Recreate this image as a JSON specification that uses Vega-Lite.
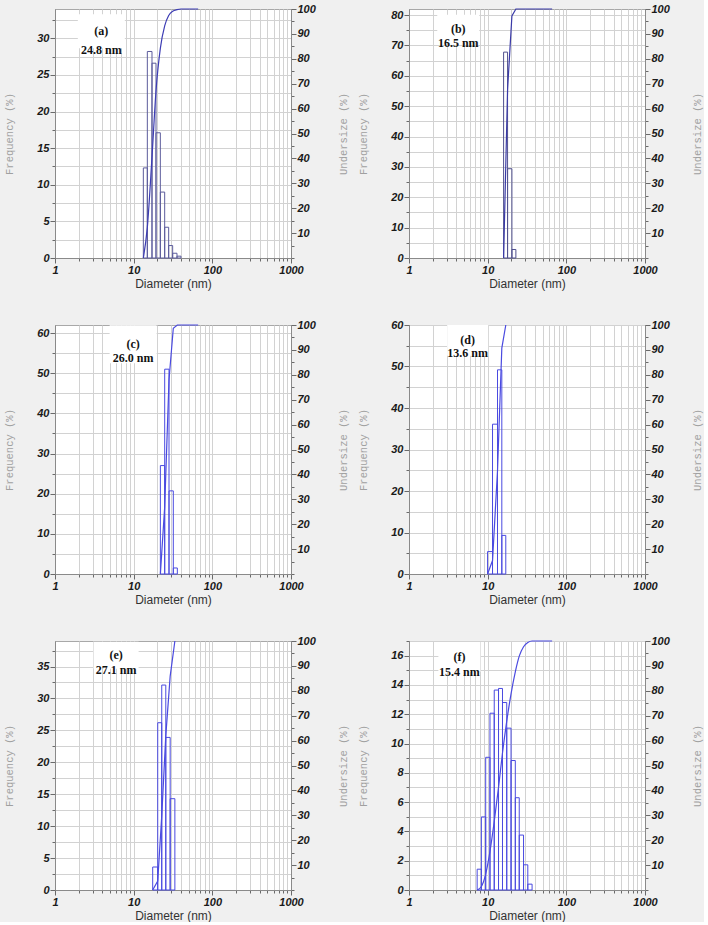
{
  "$schema": "https://vega.github.io/schema/vega-lite/v6.json",
  "background": "#f0f0f0",
  "padding": {"left": 4, "top": 2, "right": 0, "bottom": 0},
  "datasets": {
    "bars": [
      {"p": "a", "lo": 13.27, "hi": 14.92, "f": 12.3},
      {"p": "a", "lo": 14.92, "hi": 17.10, "f": 28.2},
      {"p": "a", "lo": 17.10, "hi": 19.23, "f": 26.6},
      {"p": "a", "lo": 19.23, "hi": 21.83, "f": 17.1},
      {"p": "a", "lo": 21.83, "hi": 24.79, "f": 9.0},
      {"p": "a", "lo": 24.79, "hi": 27.86, "f": 4.2},
      {"p": "a", "lo": 27.86, "hi": 31.32, "f": 1.7},
      {"p": "a", "lo": 31.32, "hi": 35.55, "f": 0.65},
      {"p": "a", "lo": 35.55, "hi": 39.97, "f": 0.25},
      {"p": "b", "lo": 15.94, "hi": 17.91, "f": 67.8},
      {"p": "b", "lo": 17.91, "hi": 20.33, "f": 29.4},
      {"p": "b", "lo": 20.33, "hi": 22.84, "f": 2.8},
      {"p": "c", "lo": 21.85, "hi": 24.8, "f": 27.0},
      {"p": "c", "lo": 24.8, "hi": 28.14, "f": 51.0},
      {"p": "c", "lo": 28.14, "hi": 31.9, "f": 20.7},
      {"p": "c", "lo": 31.9, "hi": 35.9, "f": 1.5},
      {"p": "d", "lo": 9.97, "hi": 11.53, "f": 5.4},
      {"p": "d", "lo": 11.53, "hi": 13.34, "f": 36.1},
      {"p": "d", "lo": 13.34, "hi": 15.13, "f": 49.2},
      {"p": "d", "lo": 15.13, "hi": 17.0, "f": 9.3},
      {"p": "e", "lo": 17.45, "hi": 20.22, "f": 3.6},
      {"p": "e", "lo": 20.22, "hi": 22.75, "f": 26.2},
      {"p": "e", "lo": 22.75, "hi": 25.6, "f": 32.1},
      {"p": "e", "lo": 25.6, "hi": 29.1, "f": 23.9},
      {"p": "e", "lo": 29.1, "hi": 33.4, "f": 14.3},
      {"p": "f", "lo": 7.35, "hi": 8.32, "f": 1.42},
      {"p": "f", "lo": 8.32, "hi": 9.44, "f": 4.99},
      {"p": "f", "lo": 9.44, "hi": 10.7, "f": 9.06},
      {"p": "f", "lo": 10.7, "hi": 12.12, "f": 12.07},
      {"p": "f", "lo": 12.12, "hi": 13.74, "f": 13.65},
      {"p": "f", "lo": 13.74, "hi": 15.43, "f": 13.76},
      {"p": "f", "lo": 15.43, "hi": 17.48, "f": 12.8},
      {"p": "f", "lo": 17.48, "hi": 19.82, "f": 11.05},
      {"p": "f", "lo": 19.82, "hi": 22.46, "f": 8.84},
      {"p": "f", "lo": 22.46, "hi": 25.2, "f": 6.3},
      {"p": "f", "lo": 25.2, "hi": 28.58, "f": 3.75},
      {"p": "f", "lo": 28.58, "hi": 32.38, "f": 1.72},
      {"p": "f", "lo": 32.38, "hi": 36.7, "f": 0.4}
    ],
    "cum": [
      {"p": "a", "d": 13.27, "u": 0},
      {"p": "a", "d": 14.92, "u": 12.3},
      {"p": "a", "d": 17.10, "u": 40.5},
      {"p": "a", "d": 19.23, "u": 67.1},
      {"p": "a", "d": 21.83, "u": 84.2},
      {"p": "a", "d": 24.79, "u": 93.2},
      {"p": "a", "d": 27.86, "u": 97.4},
      {"p": "a", "d": 31.32, "u": 99.1},
      {"p": "a", "d": 35.55, "u": 99.75},
      {"p": "a", "d": 39.97, "u": 100},
      {"p": "a", "d": 66, "u": 100},
      {"p": "b", "d": 15.94, "u": 0},
      {"p": "b", "d": 17.91, "u": 67.8},
      {"p": "b", "d": 20.33, "u": 97.2},
      {"p": "b", "d": 22.84, "u": 100},
      {"p": "b", "d": 66, "u": 100},
      {"p": "c", "d": 21.85, "u": 0},
      {"p": "c", "d": 24.8, "u": 27},
      {"p": "c", "d": 28.14, "u": 78},
      {"p": "c", "d": 31.9, "u": 98.7},
      {"p": "c", "d": 35.9, "u": 100},
      {"p": "c", "d": 66, "u": 100},
      {"p": "d", "d": 9.97, "u": 0},
      {"p": "d", "d": 11.53, "u": 5.4},
      {"p": "d", "d": 13.34, "u": 41.5},
      {"p": "d", "d": 15.13, "u": 90.7},
      {"p": "d", "d": 17.0, "u": 100},
      {"p": "e", "d": 17.45, "u": 0},
      {"p": "e", "d": 20.22, "u": 3.6},
      {"p": "e", "d": 22.75, "u": 29.8},
      {"p": "e", "d": 25.6, "u": 61.9},
      {"p": "e", "d": 29.1, "u": 85.8},
      {"p": "e", "d": 33.4, "u": 100},
      {"p": "f", "d": 7.35, "u": 0},
      {"p": "f", "d": 8.32, "u": 1.42},
      {"p": "f", "d": 9.44, "u": 6.41},
      {"p": "f", "d": 10.7, "u": 15.5},
      {"p": "f", "d": 12.12, "u": 27.5},
      {"p": "f", "d": 13.74, "u": 41.2},
      {"p": "f", "d": 15.43, "u": 55.0},
      {"p": "f", "d": 17.48, "u": 67.8},
      {"p": "f", "d": 19.82, "u": 78.8},
      {"p": "f", "d": 22.46, "u": 87.6},
      {"p": "f", "d": 25.2, "u": 93.9},
      {"p": "f", "d": 28.58, "u": 97.7},
      {"p": "f", "d": 32.38, "u": 99.4},
      {"p": "f", "d": 36.7, "u": 100},
      {"p": "f", "d": 66, "u": 100}
    ],
    "lab": [
      {"p": "a", "d": 3.88, "f": 30.96, "t": "(a)\n24.8 nm"},
      {"p": "b", "d": 4.23, "f": 75.5, "t": "(b)\n16.5 nm"},
      {"p": "c", "d": 9.84, "f": 57.2, "t": "(c)\n26.0 nm"},
      {"p": "d", "d": 5.57, "f": 56.3, "t": "(d)\n13.6 nm"},
      {"p": "e", "d": 5.98, "f": 36.75, "t": "(e)\n27.1 nm"},
      {"p": "f", "d": 4.37, "f": 15.9, "t": "(f)\n15.4 nm"}
    ]
  },
  "columns": 2,
  "spacing": {"row": 67, "column": 118},
  "bounds": "flush",
  "concat": [
    {
      "width": 236, "height": 249,
      "layer": [
        {"data": {"name": "bars"}, "transform": [{"filter": "datum.p == 'a'"}],
         "mark": {"type": "rect", "filled": false, "stroke": "#5c5c9c", "strokeWidth": 1},
         "encoding": {
           "x": {"field": "lo", "type": "quantitative", "scale": {"type": "log", "domain": [1, 1000]}, "axis": {"orient": "bottom", "values": [1,2,3,4,5,6,7,8,9,10,20,30,40,50,60,70,80,90,100,200,300,400,500,600,700,800,900,1000], "labels": false, "tickSize": 3, "grid": true, "title": null}},
           "x2": {"field": "hi"},
           "y": {"field": "f", "type": "quantitative", "scale": {"domain": [0, 34], "nice": false}, "axis": {"orient": "left", "values": [0,5,10,15,20,25,30], "tickSize": 5, "grid": false, "title": "Frequency (%)"}},
           "y2": {"datum": 0}
         }},
        {"data": {"name": "bars"}, "transform": [{"filter": "datum.p == 'a'"}],
         "mark": {"type": "point", "opacity": 0},
         "encoding": {
           "x": {"field": "lo", "type": "quantitative", "scale": {"type": "log", "domain": [1, 1000]}, "axis": {"orient": "bottom", "values": [1, 10, 100, 1000], "format": "d", "tickSize": 5, "grid": false, "title": "Diameter (nm)"}},
           "y": {"field": "f", "type": "quantitative", "scale": {"domain": [0, 34], "nice": false}, "axis": {"orient": "left", "values": [0,2.5,5,7.5,10,12.5,15,17.5,20,22.5,25,27.5,30,32.5], "labels": false, "tickSize": 3, "grid": true, "title": null}}
         }},
        {"data": {"name": "cum"}, "transform": [{"filter": "datum.p == 'a'"}],
         "mark": {"type": "line", "stroke": "#3c3cb4", "strokeWidth": 1.2, "interpolate": "monotone"},
         "encoding": {
           "x": {"field": "d", "type": "quantitative", "scale": {"type": "log", "domain": [1, 1000]}, "axis": null},
           "y": {"field": "u", "type": "quantitative", "scale": {"domain": [0, 100], "nice": false}, "axis": {"orient": "right", "values": [0,5,10,15,20,25,30,35,40,45,50,55,60,65,70,75,80,85,90,95,100], "labels": false, "tickSize": 3, "grid": false, "title": null}}
         }},
        {"data": {"name": "cum"}, "transform": [{"filter": "datum.p == 'a'"}],
         "mark": {"type": "point", "opacity": 0},
         "encoding": {
           "x": {"field": "d", "type": "quantitative", "scale": {"type": "log", "domain": [1, 1000]}, "axis": null},
           "y": {"field": "u", "type": "quantitative", "scale": {"domain": [0, 100], "nice": false}, "axis": {"orient": "right", "values": [10,20,30,40,50,60,70,80,90,100], "tickSize": 5, "grid": false, "title": "Undersize (%)", "titleAngle": 270, "titlePadding": 33}}
         }},
        {"data": {"name": "lab"}, "transform": [{"filter": "datum.p == 'a'"}],
         "mark": {"type": "point", "shape": "M-1,-0.723H1V0.723H-1Z", "size": 2209, "filled": true, "fill": "white", "opacity": 1, "strokeWidth": 0},
         "encoding": {
           "x": {"field": "d", "type": "quantitative", "scale": {"type": "log", "domain": [1, 1000]}, "axis": null},
           "y": {"field": "f", "type": "quantitative", "scale": {"domain": [0, 34], "nice": false}, "axis": null}
         }},
        {"data": {"name": "lab"}, "transform": [{"filter": "datum.p == 'a'"}],
         "mark": {"type": "text", "font": "Liberation Serif", "fontWeight": "bold", "fontSize": 12, "lineBreak": "\n", "lineHeight": 18.6, "align": "center", "baseline": "middle", "color": "#111"},
         "encoding": {
           "x": {"field": "d", "type": "quantitative", "scale": {"type": "log", "domain": [1, 1000]}, "axis": null},
           "y": {"field": "f", "type": "quantitative", "scale": {"domain": [0, 34], "nice": false}, "axis": null},
           "text": {"field": "t"}
         }}
      ],
      "resolve": {"scale": {"y": "independent"}, "axis": {"x": "independent", "y": "independent"}}
    },
    {
      "width": 236, "height": 249,
      "layer": [
        {"data": {"name": "bars"}, "transform": [{"filter": "datum.p == 'b'"}],
         "mark": {"type": "rect", "filled": false, "stroke": "#50508e", "strokeWidth": 1},
         "encoding": {
           "x": {"field": "lo", "type": "quantitative", "scale": {"type": "log", "domain": [1, 1000]}, "axis": {"orient": "bottom", "values": [1,2,3,4,5,6,7,8,9,10,20,30,40,50,60,70,80,90,100,200,300,400,500,600,700,800,900,1000], "labels": false, "tickSize": 3, "grid": true, "title": null}},
           "x2": {"field": "hi"},
           "y": {"field": "f", "type": "quantitative", "scale": {"domain": [0, 82], "nice": false}, "axis": {"orient": "left", "values": [0,10,20,30,40,50,60,70,80], "tickSize": 5, "grid": false, "title": "Frequency (%)"}},
           "y2": {"datum": 0}
         }},
        {"data": {"name": "bars"}, "transform": [{"filter": "datum.p == 'b'"}],
         "mark": {"type": "point", "opacity": 0},
         "encoding": {
           "x": {"field": "lo", "type": "quantitative", "scale": {"type": "log", "domain": [1, 1000]}, "axis": {"orient": "bottom", "values": [1, 10, 100, 1000], "format": "d", "tickSize": 5, "grid": false, "title": "Diameter (nm)"}},
           "y": {"field": "f", "type": "quantitative", "scale": {"domain": [0, 82], "nice": false}, "axis": {"orient": "left", "values": [0,5,10,15,20,25,30,35,40,45,50,55,60,65,70,75,80], "labels": false, "tickSize": 3, "grid": true, "title": null}}
         }},
        {"data": {"name": "cum"}, "transform": [{"filter": "datum.p == 'b'"}],
         "mark": {"type": "line", "stroke": "#3a3aa8", "strokeWidth": 1.2},
         "encoding": {
           "x": {"field": "d", "type": "quantitative", "scale": {"type": "log", "domain": [1, 1000]}, "axis": null},
           "y": {"field": "u", "type": "quantitative", "scale": {"domain": [0, 100], "nice": false}, "axis": {"orient": "right", "values": [0,5,10,15,20,25,30,35,40,45,50,55,60,65,70,75,80,85,90,95,100], "labels": false, "tickSize": 3, "grid": false, "title": null}}
         }},
        {"data": {"name": "cum"}, "transform": [{"filter": "datum.p == 'b'"}],
         "mark": {"type": "point", "opacity": 0},
         "encoding": {
           "x": {"field": "d", "type": "quantitative", "scale": {"type": "log", "domain": [1, 1000]}, "axis": null},
           "y": {"field": "u", "type": "quantitative", "scale": {"domain": [0, 100], "nice": false}, "axis": {"orient": "right", "values": [10,20,30,40,50,60,70,80,90,100], "tickSize": 5, "grid": false, "title": "Undersize (%)", "titleAngle": 270, "titlePadding": 33}}
         }},
        {"data": {"name": "lab"}, "transform": [{"filter": "datum.p == 'b'"}],
         "mark": {"type": "point", "shape": "M-1,-0.667H1V0.667H-1Z", "size": 1764, "filled": true, "fill": "white", "opacity": 1, "strokeWidth": 0},
         "encoding": {
           "x": {"field": "d", "type": "quantitative", "scale": {"type": "log", "domain": [1, 1000]}, "axis": null},
           "y": {"field": "f", "type": "quantitative", "scale": {"domain": [0, 82], "nice": false}, "axis": null}
         }},
        {"data": {"name": "lab"}, "transform": [{"filter": "datum.p == 'b'"}],
         "mark": {"type": "text", "font": "Liberation Serif", "fontWeight": "bold", "fontSize": 12, "lineBreak": "\n", "lineHeight": 14.3, "align": "center", "baseline": "middle", "color": "#111"},
         "encoding": {
           "x": {"field": "d", "type": "quantitative", "scale": {"type": "log", "domain": [1, 1000]}, "axis": null},
           "y": {"field": "f", "type": "quantitative", "scale": {"domain": [0, 82], "nice": false}, "axis": null},
           "text": {"field": "t"}
         }}
      ],
      "resolve": {"scale": {"y": "independent"}, "axis": {"x": "independent", "y": "independent"}}
    },
    {
      "width": 236, "height": 249,
      "layer": [
        {"data": {"name": "bars"}, "transform": [{"filter": "datum.p == 'c'"}],
         "mark": {"type": "rect", "filled": false, "stroke": "#4a4ae0", "strokeWidth": 1},
         "encoding": {
           "x": {"field": "lo", "type": "quantitative", "scale": {"type": "log", "domain": [1, 1000]}, "axis": {"orient": "bottom", "values": [1,2,3,4,5,6,7,8,9,10,20,30,40,50,60,70,80,90,100,200,300,400,500,600,700,800,900,1000], "labels": false, "tickSize": 3, "grid": true, "title": null}},
           "x2": {"field": "hi"},
           "y": {"field": "f", "type": "quantitative", "scale": {"domain": [0, 62], "nice": false}, "axis": {"orient": "left", "values": [0,10,20,30,40,50,60], "tickSize": 5, "grid": false, "title": "Frequency (%)"}},
           "y2": {"datum": 0}
         }},
        {"data": {"name": "bars"}, "transform": [{"filter": "datum.p == 'c'"}],
         "mark": {"type": "point", "opacity": 0},
         "encoding": {
           "x": {"field": "lo", "type": "quantitative", "scale": {"type": "log", "domain": [1, 1000]}, "axis": {"orient": "bottom", "values": [1, 10, 100, 1000], "format": "d", "tickSize": 5, "grid": false, "title": "Diameter (nm)"}},
           "y": {"field": "f", "type": "quantitative", "scale": {"domain": [0, 62], "nice": false}, "axis": {"orient": "left", "values": [0,5,10,15,20,25,30,35,40,45,50,55,60], "labels": false, "tickSize": 3, "grid": true, "title": null}}
         }},
        {"data": {"name": "cum"}, "transform": [{"filter": "datum.p == 'c'"}],
         "mark": {"type": "line", "stroke": "#4a4ae0", "strokeWidth": 1.2},
         "encoding": {
           "x": {"field": "d", "type": "quantitative", "scale": {"type": "log", "domain": [1, 1000]}, "axis": null},
           "y": {"field": "u", "type": "quantitative", "scale": {"domain": [0, 100], "nice": false}, "axis": {"orient": "right", "values": [0,5,10,15,20,25,30,35,40,45,50,55,60,65,70,75,80,85,90,95,100], "labels": false, "tickSize": 3, "grid": false, "title": null}}
         }},
        {"data": {"name": "cum"}, "transform": [{"filter": "datum.p == 'c'"}],
         "mark": {"type": "point", "opacity": 0},
         "encoding": {
           "x": {"field": "d", "type": "quantitative", "scale": {"type": "log", "domain": [1, 1000]}, "axis": null},
           "y": {"field": "u", "type": "quantitative", "scale": {"domain": [0, 100], "nice": false}, "axis": {"orient": "right", "values": [10,20,30,40,50,60,70,80,90,100], "tickSize": 5, "grid": false, "title": "Undersize (%)", "titleAngle": 270, "titlePadding": 33}}
         }},
        {"data": {"name": "lab"}, "transform": [{"filter": "datum.p == 'c'"}],
         "mark": {"type": "point", "shape": "M-1,-0.809H1V0.809H-1Z", "size": 2209, "filled": true, "fill": "white", "opacity": 1, "strokeWidth": 0},
         "encoding": {
           "x": {"field": "d", "type": "quantitative", "scale": {"type": "log", "domain": [1, 1000]}, "axis": null},
           "y": {"field": "f", "type": "quantitative", "scale": {"domain": [0, 62], "nice": false}, "axis": null}
         }},
        {"data": {"name": "lab"}, "transform": [{"filter": "datum.p == 'c'"}],
         "mark": {"type": "text", "font": "Liberation Serif", "fontWeight": "bold", "fontSize": 12, "lineBreak": "\n", "lineHeight": 14, "align": "center", "baseline": "middle", "color": "#111"},
         "encoding": {
           "x": {"field": "d", "type": "quantitative", "scale": {"type": "log", "domain": [1, 1000]}, "axis": null},
           "y": {"field": "f", "type": "quantitative", "scale": {"domain": [0, 62], "nice": false}, "axis": null},
           "text": {"field": "t"}
         }}
      ],
      "resolve": {"scale": {"y": "independent"}, "axis": {"x": "independent", "y": "independent"}}
    },
    {
      "width": 236, "height": 249,
      "layer": [
        {"data": {"name": "bars"}, "transform": [{"filter": "datum.p == 'd'"}],
         "mark": {"type": "rect", "filled": false, "stroke": "#4a4ae0", "strokeWidth": 1},
         "encoding": {
           "x": {"field": "lo", "type": "quantitative", "scale": {"type": "log", "domain": [1, 1000]}, "axis": {"orient": "bottom", "values": [1,2,3,4,5,6,7,8,9,10,20,30,40,50,60,70,80,90,100,200,300,400,500,600,700,800,900,1000], "labels": false, "tickSize": 3, "grid": true, "title": null}},
           "x2": {"field": "hi"},
           "y": {"field": "f", "type": "quantitative", "scale": {"domain": [0, 60], "nice": false}, "axis": {"orient": "left", "values": [0,10,20,30,40,50,60], "tickSize": 5, "grid": false, "title": "Frequency (%)"}},
           "y2": {"datum": 0}
         }},
        {"data": {"name": "bars"}, "transform": [{"filter": "datum.p == 'd'"}],
         "mark": {"type": "point", "opacity": 0},
         "encoding": {
           "x": {"field": "lo", "type": "quantitative", "scale": {"type": "log", "domain": [1, 1000]}, "axis": {"orient": "bottom", "values": [1, 10, 100, 1000], "format": "d", "tickSize": 5, "grid": false, "title": "Diameter (nm)"}},
           "y": {"field": "f", "type": "quantitative", "scale": {"domain": [0, 60], "nice": false}, "axis": {"orient": "left", "values": [0,5,10,15,20,25,30,35,40,45,50,55,60], "labels": false, "tickSize": 3, "grid": true, "title": null}}
         }},
        {"data": {"name": "cum"}, "transform": [{"filter": "datum.p == 'd'"}],
         "mark": {"type": "line", "stroke": "#4a4ae0", "strokeWidth": 1.2},
         "encoding": {
           "x": {"field": "d", "type": "quantitative", "scale": {"type": "log", "domain": [1, 1000]}, "axis": null},
           "y": {"field": "u", "type": "quantitative", "scale": {"domain": [0, 100], "nice": false}, "axis": {"orient": "right", "values": [0,5,10,15,20,25,30,35,40,45,50,55,60,65,70,75,80,85,90,95,100], "labels": false, "tickSize": 3, "grid": false, "title": null}}
         }},
        {"data": {"name": "cum"}, "transform": [{"filter": "datum.p == 'd'"}],
         "mark": {"type": "point", "opacity": 0},
         "encoding": {
           "x": {"field": "d", "type": "quantitative", "scale": {"type": "log", "domain": [1, 1000]}, "axis": null},
           "y": {"field": "u", "type": "quantitative", "scale": {"domain": [0, 100], "nice": false}, "axis": {"orient": "right", "values": [10,20,30,40,50,60,70,80,90,100], "tickSize": 5, "grid": false, "title": "Undersize (%)", "titleAngle": 270, "titlePadding": 33}}
         }},
        {"data": {"name": "lab"}, "transform": [{"filter": "datum.p == 'd'"}],
         "mark": {"type": "point", "shape": "M-1,-0.75H1V0.75H-1Z", "size": 1681, "filled": true, "fill": "white", "opacity": 1, "strokeWidth": 0},
         "encoding": {
           "x": {"field": "d", "type": "quantitative", "scale": {"type": "log", "domain": [1, 1000]}, "axis": null},
           "y": {"field": "f", "type": "quantitative", "scale": {"domain": [0, 60], "nice": false}, "axis": null}
         }},
        {"data": {"name": "lab"}, "transform": [{"filter": "datum.p == 'd'"}],
         "mark": {"type": "text", "font": "Liberation Serif", "fontWeight": "bold", "fontSize": 12, "lineBreak": "\n", "lineHeight": 13, "align": "center", "baseline": "middle", "color": "#111"},
         "encoding": {
           "x": {"field": "d", "type": "quantitative", "scale": {"type": "log", "domain": [1, 1000]}, "axis": null},
           "y": {"field": "f", "type": "quantitative", "scale": {"domain": [0, 60], "nice": false}, "axis": null},
           "text": {"field": "t"}
         }}
      ],
      "resolve": {"scale": {"y": "independent"}, "axis": {"x": "independent", "y": "independent"}}
    },
    {
      "width": 236, "height": 249,
      "layer": [
        {"data": {"name": "bars"}, "transform": [{"filter": "datum.p == 'e'"}],
         "mark": {"type": "rect", "filled": false, "stroke": "#4a4ae0", "strokeWidth": 1},
         "encoding": {
           "x": {"field": "lo", "type": "quantitative", "scale": {"type": "log", "domain": [1, 1000]}, "axis": {"orient": "bottom", "values": [1,2,3,4,5,6,7,8,9,10,20,30,40,50,60,70,80,90,100,200,300,400,500,600,700,800,900,1000], "labels": false, "tickSize": 3, "grid": true, "title": null}},
           "x2": {"field": "hi"},
           "y": {"field": "f", "type": "quantitative", "scale": {"domain": [0, 39], "nice": false}, "axis": {"orient": "left", "values": [0,5,10,15,20,25,30,35], "tickSize": 5, "grid": false, "title": "Frequency (%)"}},
           "y2": {"datum": 0}
         }},
        {"data": {"name": "bars"}, "transform": [{"filter": "datum.p == 'e'"}],
         "mark": {"type": "point", "opacity": 0},
         "encoding": {
           "x": {"field": "lo", "type": "quantitative", "scale": {"type": "log", "domain": [1, 1000]}, "axis": {"orient": "bottom", "values": [1, 10, 100, 1000], "format": "d", "tickSize": 5, "grid": false, "title": "Diameter (nm)"}},
           "y": {"field": "f", "type": "quantitative", "scale": {"domain": [0, 39], "nice": false}, "axis": {"orient": "left", "values": [0,2.5,5,7.5,10,12.5,15,17.5,20,22.5,25,27.5,30,32.5,35,37.5], "labels": false, "tickSize": 3, "grid": true, "title": null}}
         }},
        {"data": {"name": "cum"}, "transform": [{"filter": "datum.p == 'e'"}],
         "mark": {"type": "line", "stroke": "#4a4ae0", "strokeWidth": 1.2},
         "encoding": {
           "x": {"field": "d", "type": "quantitative", "scale": {"type": "log", "domain": [1, 1000]}, "axis": null},
           "y": {"field": "u", "type": "quantitative", "scale": {"domain": [0, 100], "nice": false}, "axis": {"orient": "right", "values": [0,5,10,15,20,25,30,35,40,45,50,55,60,65,70,75,80,85,90,95,100], "labels": false, "tickSize": 3, "grid": false, "title": null}}
         }},
        {"data": {"name": "cum"}, "transform": [{"filter": "datum.p == 'e'"}],
         "mark": {"type": "point", "opacity": 0},
         "encoding": {
           "x": {"field": "d", "type": "quantitative", "scale": {"type": "log", "domain": [1, 1000]}, "axis": null},
           "y": {"field": "u", "type": "quantitative", "scale": {"domain": [0, 100], "nice": false}, "axis": {"orient": "right", "values": [10,20,30,40,50,60,70,80,90,100], "tickSize": 5, "grid": false, "title": "Undersize (%)", "titleAngle": 270, "titlePadding": 33}}
         }},
        {"data": {"name": "lab"}, "transform": [{"filter": "datum.p == 'e'"}],
         "mark": {"type": "point", "shape": "M-1,-0.6H1V0.6H-1Z", "size": 2025, "filled": true, "fill": "white", "opacity": 1, "strokeWidth": 0},
         "encoding": {
           "x": {"field": "d", "type": "quantitative", "scale": {"type": "log", "domain": [1, 1000]}, "axis": null},
           "y": {"field": "f", "type": "quantitative", "scale": {"domain": [0, 39], "nice": false}, "axis": null}
         }},
        {"data": {"name": "lab"}, "transform": [{"filter": "datum.p == 'e'"}],
         "mark": {"type": "text", "font": "Liberation Serif", "fontWeight": "bold", "fontSize": 12, "lineBreak": "\n", "lineHeight": 14.3, "align": "center", "baseline": "middle", "color": "#111"},
         "encoding": {
           "x": {"field": "d", "type": "quantitative", "scale": {"type": "log", "domain": [1, 1000]}, "axis": null},
           "y": {"field": "f", "type": "quantitative", "scale": {"domain": [0, 39], "nice": false}, "axis": null},
           "text": {"field": "t"}
         }}
      ],
      "resolve": {"scale": {"y": "independent"}, "axis": {"x": "independent", "y": "independent"}}
    },
    {
      "width": 236, "height": 249,
      "layer": [
        {"data": {"name": "bars"}, "transform": [{"filter": "datum.p == 'f'"}],
         "mark": {"type": "rect", "filled": false, "stroke": "#4a4ae0", "strokeWidth": 1},
         "encoding": {
           "x": {"field": "lo", "type": "quantitative", "scale": {"type": "log", "domain": [1, 1000]}, "axis": {"orient": "bottom", "values": [1,2,3,4,5,6,7,8,9,10,20,30,40,50,60,70,80,90,100,200,300,400,500,600,700,800,900,1000], "labels": false, "tickSize": 3, "grid": true, "title": null}},
           "x2": {"field": "hi"},
           "y": {"field": "f", "type": "quantitative", "scale": {"domain": [0, 17], "nice": false}, "axis": {"orient": "left", "values": [0,2,4,6,8,10,12,14,16], "tickSize": 5, "grid": false, "title": "Frequency (%)"}},
           "y2": {"datum": 0}
         }},
        {"data": {"name": "bars"}, "transform": [{"filter": "datum.p == 'f'"}],
         "mark": {"type": "point", "opacity": 0},
         "encoding": {
           "x": {"field": "lo", "type": "quantitative", "scale": {"type": "log", "domain": [1, 1000]}, "axis": {"orient": "bottom", "values": [1, 10, 100, 1000], "format": "d", "tickSize": 5, "grid": false, "title": "Diameter (nm)"}},
           "y": {"field": "f", "type": "quantitative", "scale": {"domain": [0, 17], "nice": false}, "axis": {"orient": "left", "values": [0,1,2,3,4,5,6,7,8,9,10,11,12,13,14,15,16,17], "labels": false, "tickSize": 3, "grid": true, "title": null}}
         }},
        {"data": {"name": "cum"}, "transform": [{"filter": "datum.p == 'f'"}],
         "mark": {"type": "line", "stroke": "#4a4ae0", "strokeWidth": 1.2, "interpolate": "monotone"},
         "encoding": {
           "x": {"field": "d", "type": "quantitative", "scale": {"type": "log", "domain": [1, 1000]}, "axis": null},
           "y": {"field": "u", "type": "quantitative", "scale": {"domain": [0, 100], "nice": false}, "axis": {"orient": "right", "values": [0,5,10,15,20,25,30,35,40,45,50,55,60,65,70,75,80,85,90,95,100], "labels": false, "tickSize": 3, "grid": false, "title": null}}
         }},
        {"data": {"name": "cum"}, "transform": [{"filter": "datum.p == 'f'"}],
         "mark": {"type": "point", "opacity": 0},
         "encoding": {
           "x": {"field": "d", "type": "quantitative", "scale": {"type": "log", "domain": [1, 1000]}, "axis": null},
           "y": {"field": "u", "type": "quantitative", "scale": {"domain": [0, 100], "nice": false}, "axis": {"orient": "right", "values": [10,20,30,40,50,60,70,80,90,100], "tickSize": 5, "grid": false, "title": "Undersize (%)", "titleAngle": 270, "titlePadding": 33}}
         }},
        {"data": {"name": "lab"}, "transform": [{"filter": "datum.p == 'f'"}],
         "mark": {"type": "point", "shape": "M-1,-0.714H1V0.714H-1Z", "size": 1764, "filled": true, "fill": "white", "opacity": 1, "strokeWidth": 0},
         "encoding": {
           "x": {"field": "d", "type": "quantitative", "scale": {"type": "log", "domain": [1, 1000]}, "axis": null},
           "y": {"field": "f", "type": "quantitative", "scale": {"domain": [0, 17], "nice": false}, "axis": null}
         }},
        {"data": {"name": "lab"}, "transform": [{"filter": "datum.p == 'f'"}],
         "mark": {"type": "text", "font": "Liberation Serif", "fontWeight": "bold", "fontSize": 12, "lineBreak": "\n", "lineHeight": 14.4, "align": "center", "baseline": "middle", "color": "#111"},
         "encoding": {
           "x": {"field": "d", "type": "quantitative", "scale": {"type": "log", "domain": [1, 1000]}, "axis": null},
           "y": {"field": "f", "type": "quantitative", "scale": {"domain": [0, 17], "nice": false}, "axis": null},
           "text": {"field": "t"}
         }}
      ],
      "resolve": {"scale": {"y": "independent"}, "axis": {"x": "independent", "y": "independent"}}
    }
  ],
  "config": {
    "view": {"fill": "white", "stroke": "#a8a8a8", "strokeWidth": 1},
    "axis": {
      "labelFont": "Liberation Sans", "labelFontSize": 11, "labelFontStyle": "italic", "labelFontWeight": "bold", "labelColor": "#1a1a1a",
      "labelPadding": 1, "labelFlush": false, "labelOverlap": false,
      "tickColor": "#6a6a6a", "tickWidth": 1, "domainColor": "#8a8a8a", "domainWidth": 1,
      "gridColor": "#d2d2d2", "gridWidth": 1
    },
    "axisX": {"titleFont": "Liberation Sans", "titleFontSize": 12, "titleFontWeight": "normal", "titleColor": "#333333", "titlePadding": 3},
    "axisY": {"titleFont": "Liberation Mono", "titleFontSize": 10.5, "titleFontWeight": "normal", "titleColor": "#a0a0a0", "titlePadding": 22}
  }
}
